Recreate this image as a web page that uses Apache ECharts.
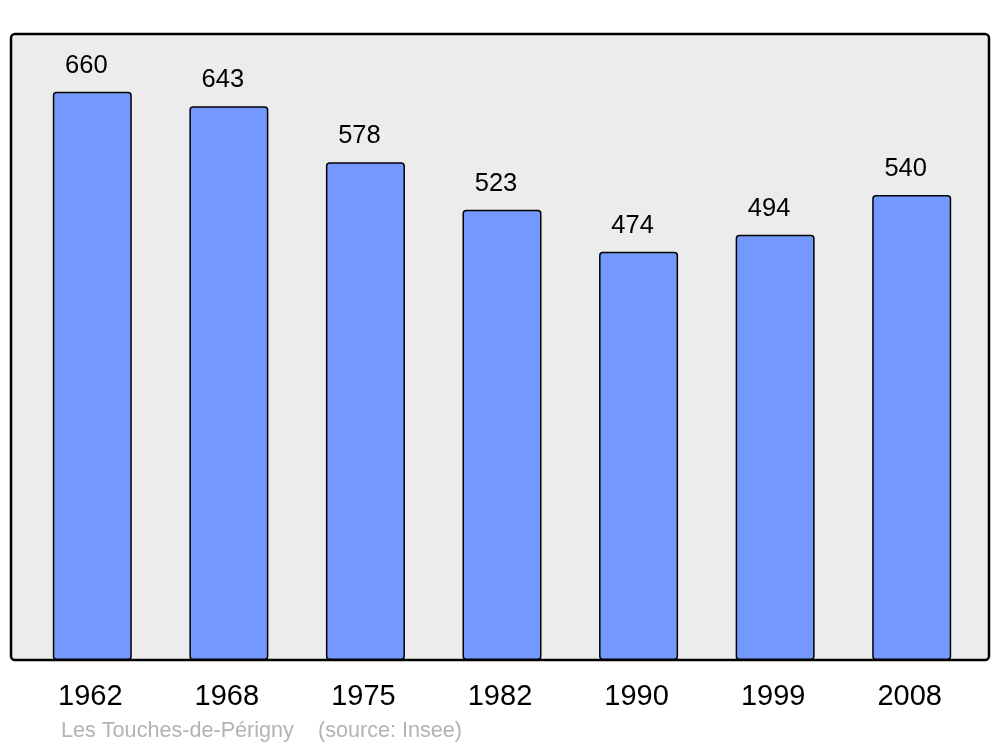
<!DOCTYPE html>
<html>
<head>
<meta charset="utf-8">
<script src="https://cdn.jsdelivr.net/npm/echarts@6/dist/echarts.min.js"></script>
<style>html,body{margin:0;padding:0;background:#fff;}#c{width:1000px;height:747px;}</style>
</head>
<body>
<div id="c"></div>
<script>
const years = ['1962','1968','1975','1982','1990','1999','2008'];
const population = [660, 643, 578, 523, 474, 494, 540];
const footerName = 'Les Touches-de-Périgny';
const footerSource = '(source: Insee)';

const chart = echarts.init(document.getElementById('c'), null, {renderer: 'canvas'});
chart.setOption({
  animation: false,
  backgroundColor: '#ffffff',
  graphic: [
    {type: 'rect', z: -10, shape: {x: 11, y: 34, width: 978, height: 626, r: 4},
     style: {fill: '#ececec', stroke: '#000', lineWidth: 2.5}},
    {type: 'text', left: 61, top: 720, style: {text: footerName, fill: '#b3b3b3', font: '21.6px "Liberation Sans", Arial, sans-serif'}},
    {type: 'text', left: 318, top: 720, style: {text: footerSource, fill: '#b3b3b3', font: '21.6px "Liberation Sans", Arial, sans-serif'}}
  ],
  grid: {left: 24, right: 20, top: 34, bottom: 87},
  xAxis: {
    type: 'category', data: years,
    axisLine: {show: false}, axisTick: {show: false},
    axisLabel: {fontSize: 29, color: '#000', fontFamily: '"Liberation Sans", Arial, sans-serif', margin: 22, padding: [0, 4, 0, 0]}
  },
  yAxis: {type: 'value', min: 0, max: 727, show: false, splitLine: {show: false}},
  series: [{
    type: 'bar', data: population, barWidth: 79,
    itemStyle: {color: '#7399ff', borderColor: '#000', borderWidth: 1.5, borderRadius: 3},
    label: {show: true, position: 'top', distance: 13, offset: [-6, 0], fontSize: 25.5, color: '#000',
            fontFamily: '"Liberation Sans", Arial, sans-serif'}
  }]
});
</script>
</body>
</html>
